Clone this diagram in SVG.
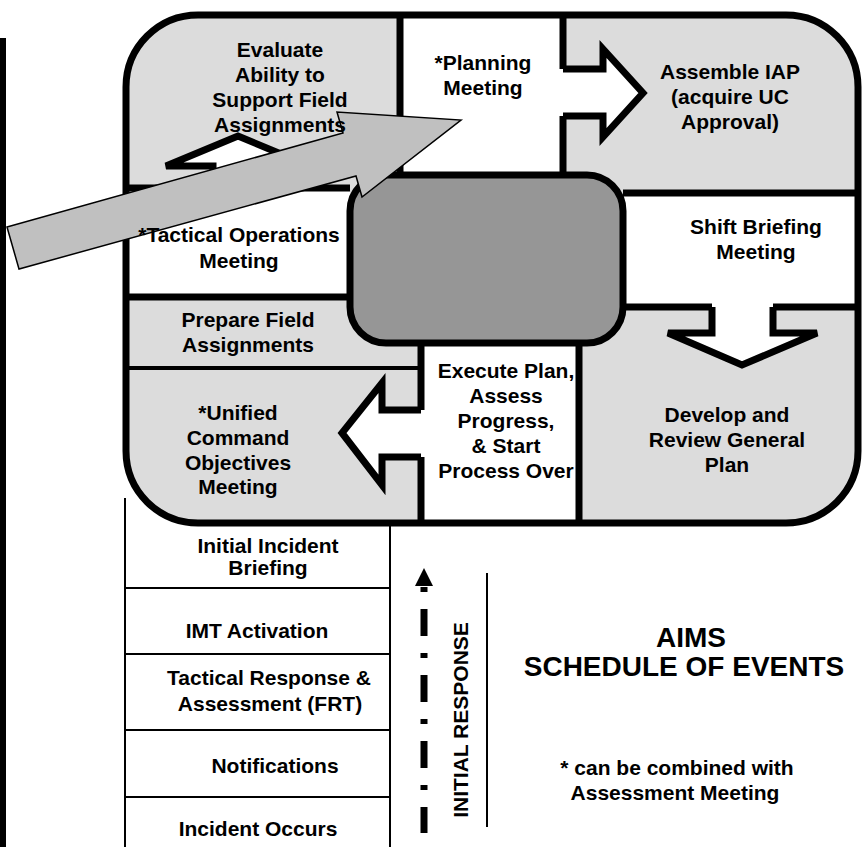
<svg xmlns="http://www.w3.org/2000/svg" width="866" height="847" viewBox="0 0 866 847">
<style>
text{font-family:"Liberation Sans",Arial,sans-serif;font-weight:bold;font-size:21px;fill:#000;text-anchor:middle}
.big{font-size:28px}
.thin{stroke:#000;stroke-width:2;fill:none}
.div{stroke:#000;stroke-width:7;fill:none}
.blk{fill:#fff;stroke:#000;stroke-width:7;stroke-linejoin:miter}
</style>
<rect width="866" height="847" fill="#fff"/>
<line x1="3" y1="38" x2="3" y2="847" stroke="#000" stroke-width="6"/>
<g id="table">
<line class="thin" x1="125" y1="498" x2="125" y2="847"/>
<line class="thin" x1="390" y1="500" x2="390" y2="847"/>
<line class="thin" x1="125" y1="588" x2="390" y2="588"/>
<line class="thin" x1="125" y1="654" x2="390" y2="654"/>
<line class="thin" x1="125" y1="730" x2="390" y2="730"/>
<line class="thin" x1="125" y1="797" x2="390" y2="797"/>
</g>
<g id="cycle">
<rect x="126" y="15" width="732" height="508" rx="72" ry="72" fill="#dcdcdc"/>
<rect x="400" y="15" width="163" height="160" fill="#fff"/>
<rect x="623" y="193" width="235" height="114" fill="#fff"/>
<rect x="126" y="188" width="224" height="109" fill="#fff"/>
<rect x="421" y="343" width="158" height="180" fill="#fff"/>
</g>
<g id="dividers">
<line class="div" x1="400" y1="15" x2="400" y2="175"/>
<line class="div" x1="563" y1="15" x2="563" y2="69"/>
<line class="div" x1="563" y1="116" x2="563" y2="175"/>
<line class="div" x1="623" y1="193" x2="858" y2="193"/>
<line class="div" x1="579" y1="307" x2="712" y2="307"/>
<line class="div" x1="773" y1="307" x2="858" y2="307"/>
<line class="div" x1="579" y1="343" x2="579" y2="523"/>
<line class="div" x1="421" y1="343" x2="421" y2="410"/>
<line class="div" x1="421" y1="457" x2="421" y2="523"/>
<line x1="126" y1="368" x2="421" y2="368" stroke="#000" stroke-width="4"/>
<line class="div" x1="126" y1="297" x2="350" y2="297"/>
<line class="div" x1="126" y1="188" x2="213" y2="188"/>
<line class="div" x1="263" y1="188" x2="350" y2="188"/>
</g>
<g id="center-box">
<rect x="350" y="175" width="273" height="168" rx="36" ry="36" fill="#969696" stroke="#000" stroke-width="7"/>
</g>
<g id="connectors">
<path class="blk" d="M563,69 H603 V49 L643,93 L603,137 V116 H563"/>
<path class="blk" d="M712,307 V333 H668 L742,365 L817,333 H773 V307"/>
<path class="blk" d="M421,410 H382 V383 L342,433 L382,485 V457 H421"/>
<path class="blk" d="M213,188 V166 H166 L238,136 L310,166 H263 V188"/>
</g>
<rect x="126" y="15" width="732" height="508" rx="72" ry="72" fill="none" stroke="#000" stroke-width="7"/>
<g id="big-arrow">
<polygon points="7,227 343,133 337,112 461,120 362,197 356,176 19,269" fill="#c0c0c0" stroke="#000" stroke-width="1.5" stroke-linejoin="miter"/>
</g>
<g id="n-evaluate">
<text x="280" y="57">Evaluate</text>
<text x="280" y="82">Ability to</text>
<text x="280" y="107">Support Field</text>
<text x="280" y="132">Assignments</text>
</g>
<g id="n-planning">
<text x="483" y="70">*Planning</text>
<text x="483" y="95">Meeting</text>
</g>
<g id="n-assemble">
<text x="730" y="79">Assemble IAP</text>
<text x="730" y="104">(acquire UC</text>
<text x="730" y="129">Approval)</text>
</g>
<g id="n-shift">
<text x="756" y="234">Shift Briefing</text>
<text x="756" y="259">Meeting</text>
</g>
<g id="n-develop">
<text x="727" y="422">Develop and</text>
<text x="727" y="447">Review General</text>
<text x="727" y="472">Plan</text>
</g>
<g id="n-execute">
<text x="506" y="378">Execute Plan,</text>
<text x="506" y="403">Assess</text>
<text x="506" y="428">Progress,</text>
<text x="506" y="453">&amp; Start</text>
<text x="506" y="478">Process Over</text>
</g>
<g id="n-unified">
<text x="238" y="420">*Unified</text>
<text x="238" y="445">Command</text>
<text x="238" y="470">Objectives</text>
<text x="238" y="494">Meeting</text>
</g>
<g id="n-prepare">
<text x="248" y="327">Prepare Field</text>
<text x="248" y="352">Assignments</text>
</g>
<g id="n-tactical">
<text x="239" y="242">*Tactical Operations</text>
<text x="239" y="268">Meeting</text>
</g>
<g id="n-briefing">
<text x="268" y="553">Initial Incident</text>
<text x="268" y="575">Briefing</text>
</g>
<g id="n-imt"><text x="257" y="638">IMT Activation</text></g>
<g id="n-response">
<text x="269" y="685">Tactical Response &amp;</text>
<text x="270" y="711">Assessment (FRT)</text>
</g>
<g id="n-notifications"><text x="275" y="773">Notifications</text></g>
<g id="n-occurs"><text x="258" y="836">Incident Occurs</text></g>
<g id="initial-response">
<line x1="424" y1="587" x2="424" y2="833" stroke="#000" stroke-width="7" stroke-dasharray="5 17 27 17"/>
<polygon points="424,568 433,586 415,586" fill="#000"/>
<text transform="translate(468,720) rotate(-90)">INITIAL RESPONSE</text>
<line x1="487" y1="573" x2="487" y2="827" stroke="#000" stroke-width="2"/>
</g>
<g id="title">
<text class="big" x="691" y="647">AIMS</text>
<text class="big" x="684" y="676">SCHEDULE OF EVENTS</text>
</g>
<g id="note">
<text x="677" y="775">* can be combined with</text>
<text x="675" y="800">Assessment Meeting</text>
</g>
</svg>
